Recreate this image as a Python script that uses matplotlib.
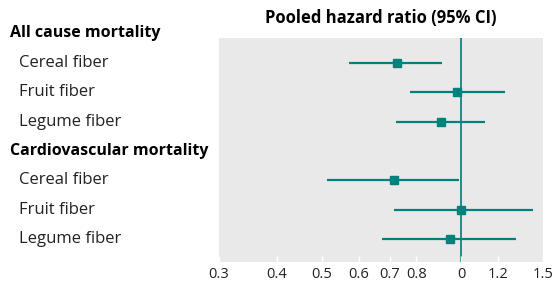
import numpy as np
import matplotlib.pyplot as plt

groups = ['All cause mortality', 'Cardiovascular mortality']
fibers = ['Cereal fiber', 'Fruit fiber', 'Legume fiber']
hr_all = [0.725, 0.979, 0.905]
lo_all = [0.572, 0.773, 0.721]
hi_all = [0.908, 1.243, 1.127]
hr_cvd = [0.715, 1.00, 0.946]
lo_cvd = [0.513, 0.715, 0.673]
hi_cvd = [0.987, 1.424, 1.312]
xticks = [0.3, 0.4, 0.5, 0.6, 0.7, 0.8, 1.0, 1.2, 1.5]
xticklabels = ['0.3', '0.4', '0.5', '0.6', '0.7', '0.8', '0', '1.2', '1.5']

teal = '#00817b'
plt.rcParams['font.family'] = ['Open Sans', 'DejaVu Sans']

fig = plt.figure(figsize=(5.57, 2.89), dpi=100)
ax = fig.add_axes([0.393, 0.0917, 0.582, 0.7758])
ax.set_facecolor('#e9e9e9')
for s in ax.spines.values():
    s.set_visible(False)

rows_all = [1, 2, 3]
rows_cvd = [5, 6, 7]
for rows, hr, lo, hi in [(rows_all, hr_all, lo_all, hi_all), (rows_cvd, hr_cvd, lo_cvd, hi_cvd)]:
    for r, h, l, u in zip(rows, hr, lo, hi):
        ax.plot([l, u], [r, r], color=teal, lw=1.6, solid_capstyle='butt', zorder=2)
        ax.plot(h, r, marker='s', ms=5.8, color=teal, zorder=3)

ax.axvline(1.0, color='#1a8f89', lw=1.4, zorder=1)
ax.set_xscale('log')
ax.set_xlim(0.3, 1.5)
ax.set_ylim(7.79, 0.17)
ax.set_xticks(xticks)
ax.set_xticklabels(xticklabels)
ax.xaxis.set_minor_locator(plt.NullLocator())
ax.tick_params(axis='x', direction='in', color='white', length=4, width=1, labelsize=10.5, pad=3.5, labelcolor='#222222')
ax.set_yticks([])

# row labels
trans = ax.get_yaxis_transform()
for r, g in zip([0, 4], groups):
    ax.text(-0.645, r, g, transform=trans, fontsize=11.5, fontweight='bold', va='center', ha='left', clip_on=False)
for rows in (rows_all, rows_cvd):
    for r, f in zip(rows, fibers):
        ax.text(-0.618, r, f, transform=trans, fontsize=12, va='center', ha='left', color='#222222', clip_on=False)

fig.text(0.684, 0.938, 'Pooled hazard ratio (95% CI)', ha='center', va='center', fontsize=12, fontweight='bold')

fig.savefig('out.png', dpi=100)
